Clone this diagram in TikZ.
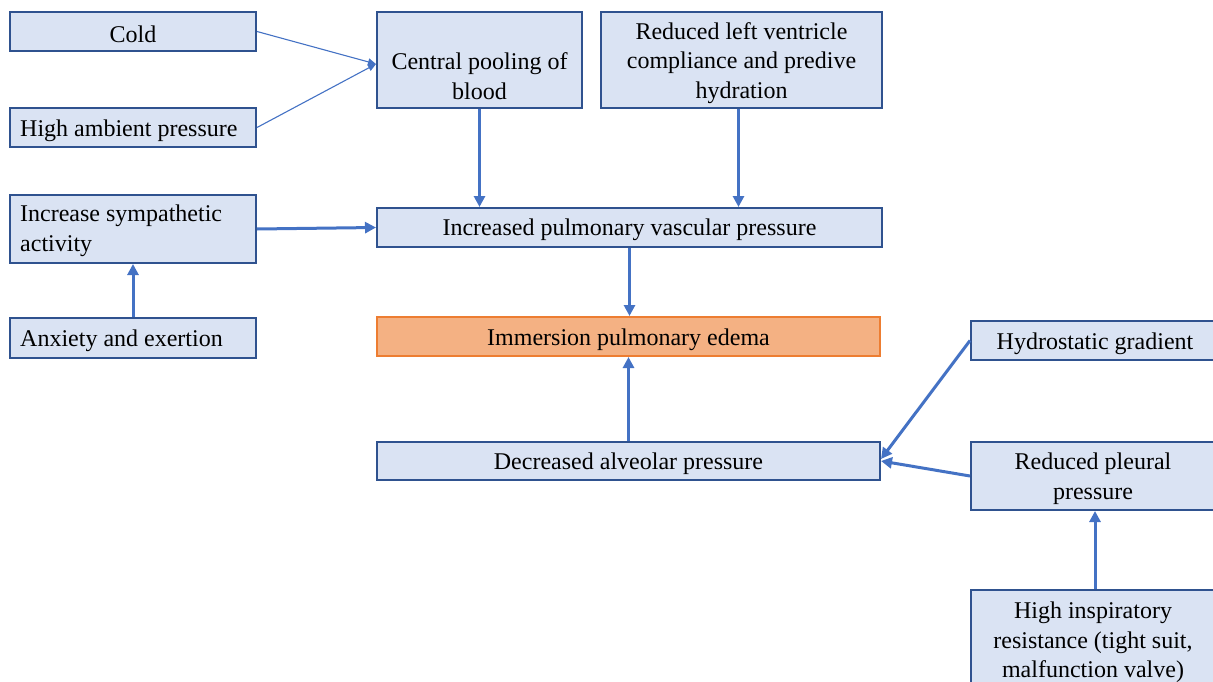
\documentclass[tikz,border=0pt]{standalone}
\usepackage{fontspec}
\setmainfont{Liberation Serif}
\usetikzlibrary{arrows.meta,positioning}
\definecolor{boxfill}{HTML}{DAE3F3}
\definecolor{boxline}{HTML}{2F528F}
\definecolor{arrowblue}{HTML}{4472C4}
\definecolor{orangefill}{HTML}{F4B183}
\definecolor{orangeline}{HTML}{ED7D31}
\tikzset{
  box/.style={draw=boxline, fill=boxfill, line width=2pt, anchor=north west,
    inner sep=0pt},
  hotbox/.style={box, draw=orangeline, fill=orangefill},
  txt/.style={inner sep=0pt, align=center, font=\fontsize{24}{29.5}\selectfont},
  ltxt/.style={txt, align=left, anchor=west},
  thick arrow/.style={draw=arrowblue, line width=3pt,
    -{Triangle[length=11pt,width=11pt]}},
  thin arrow/.style={draw=arrowblue, line width=1.1pt,
    -{Triangle[length=8pt,width=7pt]}},
}
\begin{document}
\begin{tikzpicture}[x=1pt,y=-1pt]
\useasboundingbox (0,0) rectangle (1213,682);
\clip (0,0) rectangle (1213,682);
% boxes
\node[box, minimum width=246pt, minimum height=39pt] (cold) at (9,11) {};
\node[box, minimum width=246pt, minimum height=39pt] (ambient) at (9,107) {};
\node[box, minimum width=205pt, minimum height=96pt] (pool) at (376,11) {};
\node[box, minimum width=281pt, minimum height=96pt] (ventricle) at (600,11) {};
\node[box, minimum width=246pt, minimum height=68pt] (symp) at (9,194) {};
\node[box, minimum width=246pt, minimum height=40pt] (anxiety) at (9,317) {};
\node[box, minimum width=505pt, minimum height=39pt] (pvp) at (376,207) {};
\node[hotbox, minimum width=503pt, minimum height=39pt] (ipe) at (376,316) {};
\node[box, minimum width=503pt, minimum height=38pt] (alv) at (376,441) {};
\node[box, minimum width=244pt, minimum height=39pt] (hydro) at (970,320) {};
\node[box, minimum width=244pt, minimum height=68pt] (pleural) at (970,441) {};
\node[box, minimum width=244pt, minimum height=110pt] (insp) at (970,589) {};
% texts
\node[txt] (coldT) at ([yshift=-3pt]cold.center) {Cold};
\node[ltxt] (ambientT) at ([xshift=11pt,yshift=-3pt]ambient.west) {High ambient pressure};
\node[txt] (poolT) at ([yshift=-16pt]pool.center) {Central pooling of\\blood};
\node[txt] (ventricleT) at ([yshift=-3pt]ventricle.center) {Reduced left ventricle\\compliance and predive\\hydration};
\node[ltxt] (sympT) at ([xshift=11pt,yshift=-2pt]symp.west) {Increase sympathetic\\activity};
\node[ltxt] (anxietyT) at ([xshift=11pt,yshift=-3pt]anxiety.west) {Anxiety and exertion};
\node[txt] (pvpT) at ([yshift=-2.5pt]pvp.center) {Increased pulmonary vascular pressure};
\node[txt] (ipeT) at ([yshift=-3pt]ipe.center) {Immersion pulmonary edema};
\node[txt] (alvT) at ([yshift=-3pt]alv.center) {Decreased alveolar pressure};
\node[txt] (hydroT) at ([xshift=2pt,yshift=-3pt]hydro.center) {Hydrostatic gradient};
\node[txt] (pleuralT) at ([yshift=-2.5pt]pleural.center) {Reduced pleural\\pressure};
\node[txt, anchor=north] (inspT) at ([yshift=-13pt]insp.north) {High inspiratory\\resistance (tight suit,\\malfunction valve)};
% connectors
\draw[thin arrow] (cold.east) -- ([yshift=-4pt]pool.west);
\draw[thin arrow] (ambient.east) -- ([yshift=-4pt]pool.west);
\draw[thick arrow] (pool.south) -- (pool.south |- pvp.north);
\draw[thick arrow] ([xshift=-3pt]ventricle.south) -- ([xshift=-3pt]ventricle.south |- pvp.north);
\draw[thick arrow] (symp.east) -- (pvp.west);
\draw[thick arrow] (anxiety.north) -- (symp.south);
\draw[thick arrow] (pvp.south) -- (pvp.south |- ipe.north);
\draw[thick arrow] (alv.north) -- (alv.north |- ipe.south);
\draw[thick arrow] (hydro.west) -- ([yshift=2pt]alv.east);
\draw[thick arrow] (pleural.west) -- (alv.east);
\draw[thick arrow] ([xshift=2pt]insp.north) -- ([xshift=2pt]insp.north |- pleural.south);
\end{tikzpicture}
\end{document}
